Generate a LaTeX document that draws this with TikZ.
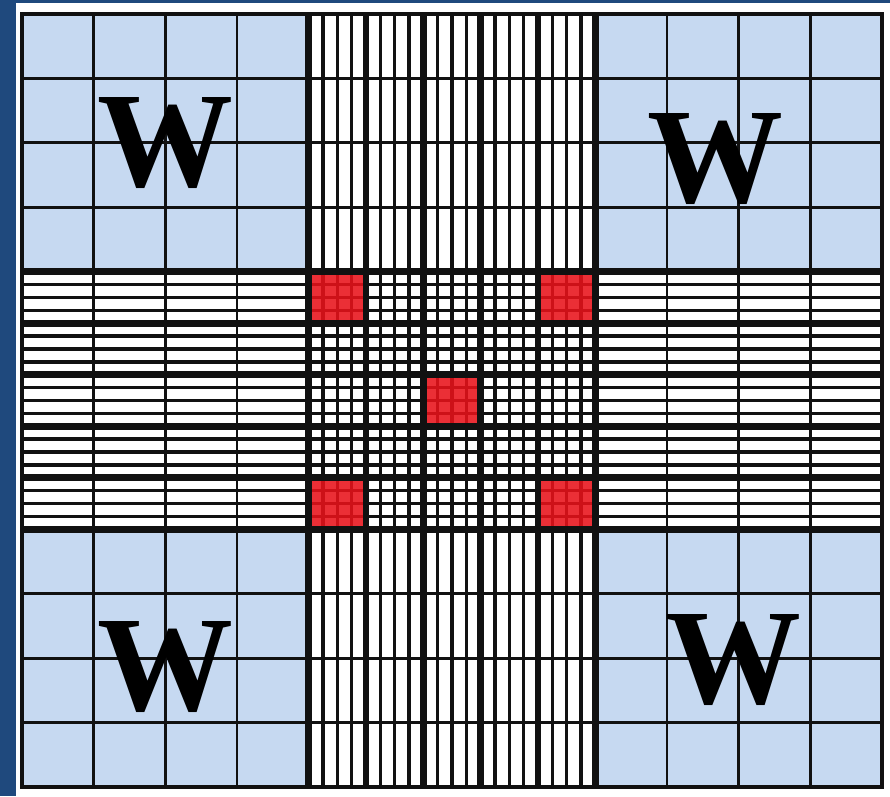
\documentclass[tikz,border=0pt]{standalone}
\usepackage{fontspec}
\setmainfont{Liberation Serif}
\usepackage{xcolor}
\usepackage{tikz}
\usetikzlibrary{positioning}
\definecolor{Ink}{HTML}{111111}
\definecolor{Navy}{HTML}{1F497D}
\definecolor{Pale}{HTML}{C6D9F1}
\definecolor{Blood}{HTML}{E8121A}

\begin{document}
\begin{tikzpicture}[x=2.15cm,y=1.9325cm,
    fineline/.style={Ink,line width=3pt},
    cellline/.style={Ink,line width=2.4pt},
    heavyline/.style={Ink,line width=5.8pt},
    wlabel/.style={inner sep=0pt,font=\fontsize{116}{116}\selectfont\bfseries}]
  \useasboundingbox (-0.307,-0.14) rectangle (12.111,12.217);
  \fill[Navy] (-0.307,-0.14) rectangle (-0.084,12.217);
  \fill[Navy] (-0.307,12.17) rectangle (12.111,12.217);
  % corner squares
  \foreach \x in {0,8}{\foreach \y in {0,8}{\fill[Pale] (\x,\y) rectangle +(4,4);}}
  % fine rulings
  \foreach \k in {1,...,19}{
    \draw[fineline] (4+0.2*\k,0)--(4+0.2*\k,12);
    \draw[fineline] (0,4+0.2*\k)--(12,4+0.2*\k);
  }
  % counting squares
  \foreach \i/\j in {0/0,4/0,2/2,0/4,4/4}{\fill[Blood,opacity=0.88] (4+0.8*\i,4+0.8*\j) rectangle +(0.8,0.8);}
  \foreach \v in {1,2,3,9,10,11}{
    \draw[cellline] (\v,0)--(\v,12);
    \draw[cellline] (0,\v)--(12,\v);
  }
  \foreach \i in {0,...,5}{
    \draw[heavyline] (4+0.8*\i,0)--(4+0.8*\i,12);
    \draw[heavyline] (0,4+0.8*\i)--(12,4+0.8*\i);
  }
  \draw[Ink,line width=3pt] (0,0) rectangle (12,12);
  \node[wlabel] (wtl) at (2,10) {W};
  \node[wlabel] (wtr) at (9.68,9.75) {W};
  \node[wlabel] (wbl) at (2,1.86) {W};
  \node[wlabel] (wbr) at (9.93,1.97) {W};
\end{tikzpicture}
\end{document}
